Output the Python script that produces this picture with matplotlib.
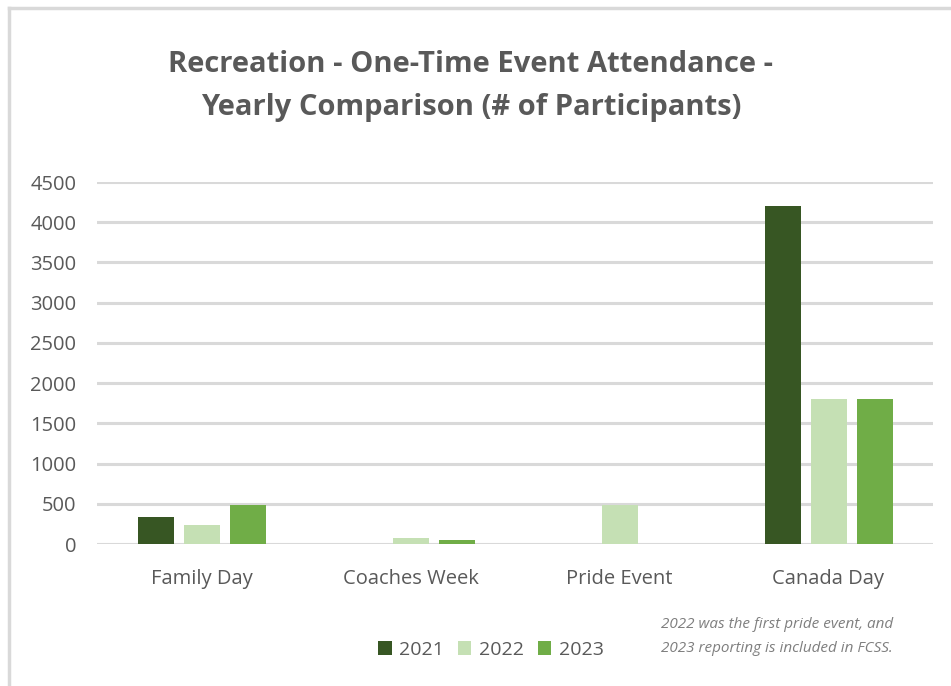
import matplotlib
matplotlib.use("Agg")
import matplotlib.pyplot as plt
from matplotlib.patches import Patch
from matplotlib.lines import Line2D
import numpy as np

categories = ["Family Day", "Coaches Week", "Pride Event", "Canada Day"]
years = ["2021", "2022", "2023"]
values_2021 = [330, 0, 0, 4200]
values_2022 = [230, 80, 480, 1800]
values_2023 = [480, 55, 0, 1800]
y_ticks = [0, 500, 1000, 1500, 2000, 2500, 3000, 3500, 4000, 4500]

colors = ["#375623", "#C5E0B4", "#70AD47"]
text_gray = "#595959"
grid_gray = "#D9D9D9"

plt.rcParams["font.family"] = ["Open Sans", "DejaVu Sans"]

fig = plt.figure(figsize=(9.51, 6.86), dpi=100)
W, H = 951, 686
ax = fig.add_axes([97 / W, 1 - 544 / H, (933 - 97) / W, (544 - 182) / H])

x = np.arange(len(categories))
bar_w = 36 / 209
step = 46 / 209
for i, (vals, col) in enumerate(zip([values_2021, values_2022, values_2023], colors)):
    ax.bar(x + (i - 1) * step, vals, width=bar_w, color=col, zorder=3)

ax.set_xlim(-0.5, len(categories) - 0.5)
ax.set_ylim(0, 4500)
ax.set_yticks(y_ticks)
ax.set_yticklabels([str(v) for v in y_ticks], fontsize=14.5, color=text_gray)
ax.set_xticks(x)
ax.set_xticklabels(categories, fontsize=14.5, color=text_gray)
ax.tick_params(axis="y", length=0, pad=15)
ax.tick_params(axis="x", length=0, pad=18)
ax.yaxis.grid(True, color=grid_gray, linewidth=2.2, zorder=0)
ax.set_axisbelow(True)
for s in ax.spines.values():
    s.set_visible(False)

# title
fig.text(471 / W, 1 - 64 / H, "Recreation - One-Time Event Attendance -",
         ha="center", va="center", fontsize=21, fontweight="bold", color=text_gray)
fig.text(471 / W, 1 - 107 / H, "Yearly Comparison (# of Participants)",
         ha="center", va="center", fontsize=21, fontweight="bold", color=text_gray)

# legend
handles = [Patch(facecolor=c, edgecolor="none") for c in colors]
leg = fig.legend(handles, years, loc="center", bbox_to_anchor=(491 / W, 1 - 650 / H),
                 ncol=3, frameon=False, handlelength=0.7, handleheight=0.75,
                 handletextpad=0.4, columnspacing=0.7,
                 prop={"size": 14})
for t in leg.get_texts():
    t.set_color(text_gray)

# footnote
fig.text(661 / W, 1 - 625 / H, "2022 was the first pride event, and",
         ha="left", va="center", fontsize=11, style="italic", color="#7F7F7F")
fig.text(661 / W, 1 - 648 / H, "2023 reporting is included in FCSS.",
         ha="left", va="center", fontsize=11, style="italic", color="#7F7F7F")

# chart frame edges
fig.add_artist(Line2D([9 / W, 9 / W], [0, 1 - 8 / H], color=grid_gray, linewidth=2.5))
fig.add_artist(Line2D([9 / W, 1], [1 - 8 / H, 1 - 8 / H], color=grid_gray, linewidth=2.5))

fig.savefig("out.png", dpi=100)
